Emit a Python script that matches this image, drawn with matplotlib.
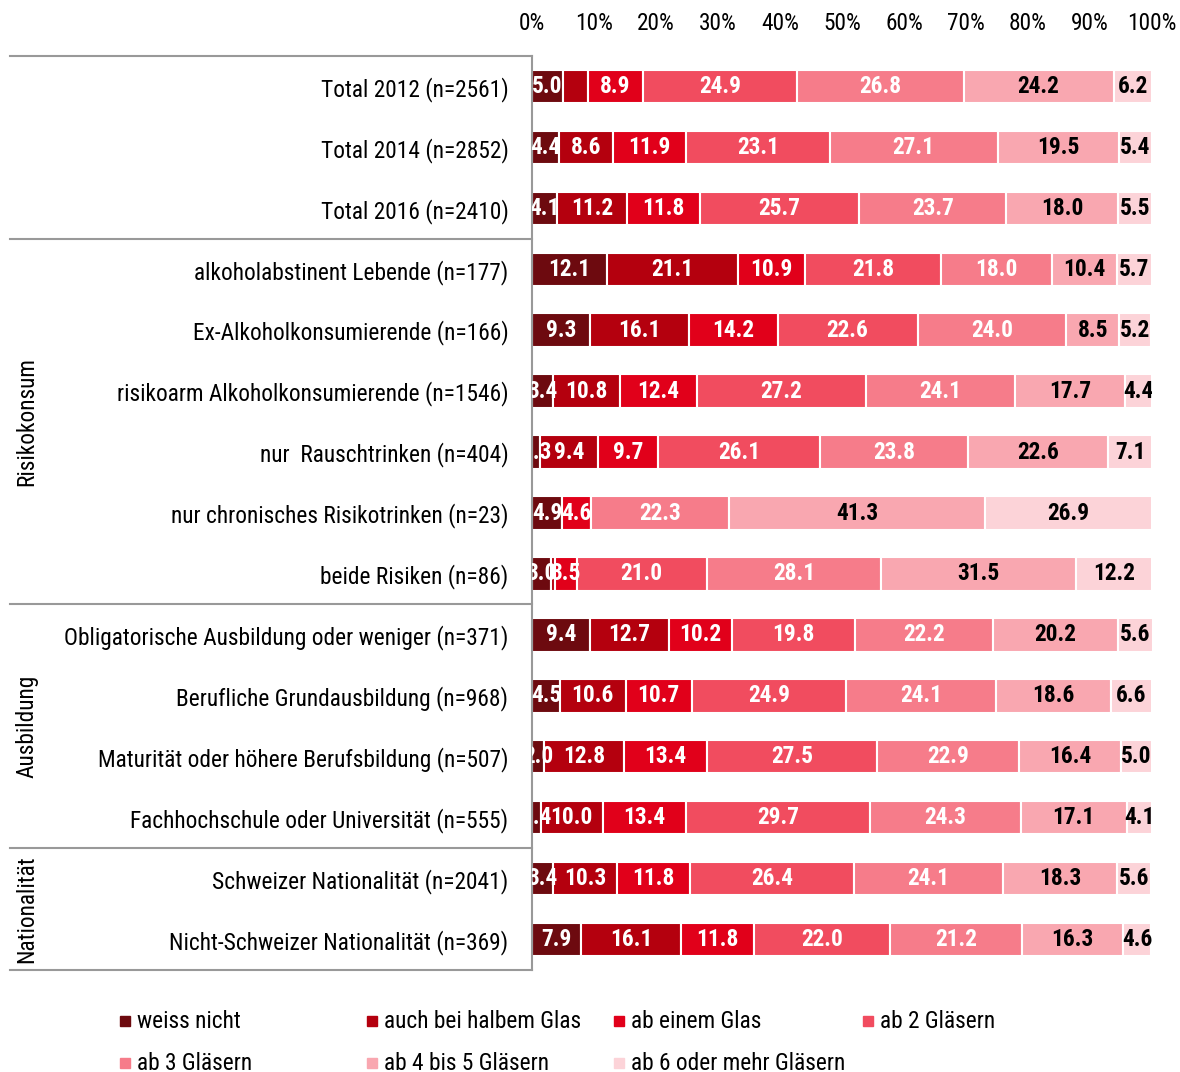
import matplotlib
matplotlib.use("Agg")
import matplotlib.pyplot as plt
import matplotlib.transforms as mtransforms
from matplotlib import font_manager
from matplotlib.patches import Rectangle

# the original uses a narrow Arial; take a narrow face when there is one
installed = {f.name for f in font_manager.fontManager.ttflist}
narrow = [n for n in ["Liberation Sans Narrow", "Roboto Condensed"] if n in installed]
if narrow:
    base_font, fs = narrow[0], 16.8
else:
    base_font, fs = "Liberation Sans", 14
plt.rcParams['font.family'] = [base_font, 'DejaVu Sans']

categories = [
    "Total 2012 (n=2561)",
    "Total 2014 (n=2852)",
    "Total 2016 (n=2410)",
    "alkoholabstinent Lebende (n=177)",
    "Ex-Alkoholkonsumierende (n=166)",
    "risikoarm Alkoholkonsumierende (n=1546)",
    "nur  Rauschtrinken (n=404)",
    "nur chronisches Risikotrinken (n=23)",
    "beide Risiken (n=86)",
    "Obligatorische Ausbildung oder weniger (n=371)",
    "Berufliche Grundausbildung (n=968)",
    "Maturität oder höhere Berufsbildung (n=507)",
    "Fachhochschule oder Universität (n=555)",
    "Schweizer Nationalität (n=2041)",
    "Nicht-Schweizer Nationalität (n=369)",
]

series_names = [
    "weiss nicht",
    "auch bei halbem Glas",
    "ab einem Glas",
    "ab 2 Gläsern",
    "ab 3 Gläsern",
    "ab 4 bis 5 Gläsern",
    "ab 6 oder mehr Gläsern",
]

weiss_nicht = [5.0, 4.4, 4.1, 12.1, 9.3, 3.4, 1.3, 4.9, 3.0, 9.4, 4.5, 2.0, 1.4, 3.4, 7.9]
halbes_glas = [4.0, 8.6, 11.2, 21.1, 16.1, 10.8, 9.4, 0.0, 0.7, 12.7, 10.6, 12.8, 10.0, 10.3, 16.1]
ein_glas = [8.9, 11.9, 11.8, 10.9, 14.2, 12.4, 9.7, 4.6, 3.5, 10.2, 10.7, 13.4, 13.4, 11.8, 11.8]
zwei_glaeser = [24.9, 23.1, 25.7, 21.8, 22.6, 27.2, 26.1, 0.0, 21.0, 19.8, 24.9, 27.5, 29.7, 26.4, 22.0]
drei_glaeser = [26.8, 27.1, 23.7, 18.0, 24.0, 24.1, 23.8, 22.3, 28.1, 22.2, 24.1, 22.9, 24.3, 24.1, 21.2]
vier_fuenf = [24.2, 19.5, 18.0, 10.4, 8.5, 17.7, 22.6, 41.3, 31.5, 20.2, 18.6, 16.4, 17.1, 18.3, 16.3]
sechs_mehr = [6.2, 5.4, 5.5, 5.7, 5.2, 4.4, 7.1, 26.9, 12.2, 5.6, 6.6, 5.0, 4.1, 5.6, 4.6]

series = [weiss_nicht, halbes_glas, ein_glas, zwei_glaeser, drei_glaeser, vier_fuenf, sechs_mehr]

# segments without a value label in the original (row, series)
unlabeled = [(0, 1), (8, 1)]

groups = [("Risikokonsum", 3, 8), ("Ausbildung", 9, 12), ("Nationalität", 13, 14)]
group_breaks = [-0.5, 2.5, 8.5, 12.5, 14.5]

colors = ["#6d0a0f", "#b4000e", "#e1001a", "#f14c5f", "#f67c8a", "#f9a7b0", "#fcd3d8"]
text_colors = ["white", "white", "white", "white", "white", "black", "black"]

W, H = 1180, 1072
fig = plt.figure(figsize=(W / 100, H / 100), dpi=100)
ax = fig.add_axes([532 / W, 1 - 970 / H, 620 / W, 914 / H])

ypos = list(range(len(categories)))
left = [0.0] * len(categories)
for s, vals in enumerate(series):
    ax.barh(ypos, vals, left=left, height=0.55, color=colors[s],
            edgecolor="white", linewidth=1.5)
    for i, v in enumerate(vals):
        if v > 0 and (i, s) not in unlabeled:
            ax.text(left[i] + v / 2, i, f"{v:.1f}", ha="center", va="center",
                    fontsize=fs, fontweight="bold", color=text_colors[s],
                    clip_on=True)
        left[i] += v

ax.set_xlim(0, 100)
ax.set_ylim(14.5, -0.5)
ax.xaxis.tick_top()
ax.set_xticks(range(0, 101, 10))
ax.set_xticklabels([f"{t}%" for t in range(0, 101, 10)], fontsize=fs)
ax.tick_params(axis="x", length=0, pad=15)
ax.set_yticks(ypos)
ax.set_yticklabels(categories, fontsize=fs)
ax.tick_params(axis="y", length=0, pad=17)

for side in ["top", "right", "bottom"]:
    ax.spines[side].set_visible(False)
ax.spines["left"].set_color("#999999")
ax.spines["left"].set_linewidth(1.5)

# group separators to the left of the bars
trans = mtransforms.blended_transform_factory(ax.transAxes, ax.transData)
for yb in group_breaks:
    ax.plot([-522 / 620, 0], [yb, yb], transform=trans, color="#999999",
            linewidth=1.5, clip_on=False)

gtrans = mtransforms.blended_transform_factory(fig.transFigure, ax.transData)
for name, a, b in groups:
    fig.text(27 / W, (a + b) / 2, name, rotation=90, ha="center", va="center",
             fontsize=fs, transform=gtrans)

# legend, laid out in rows like the original
legend_x = [120, 367, 614, 863]
legend_y = [1021, 1063]
for k, name in enumerate(series_names):
    r, c = divmod(k, 4)
    x0 = legend_x[c]
    yc = legend_y[r]
    fig.patches.append(Rectangle((x0 / W, 1 - (yc + 5) / H), 10 / W, 10 / H,
                                 transform=fig.transFigure, color=colors[k]))
    fig.text((x0 + 17) / W, 1 - yc / H, name, ha="left", va="center", fontsize=fs)

fig.savefig("out.png", dpi=100)
plt.close(fig)
